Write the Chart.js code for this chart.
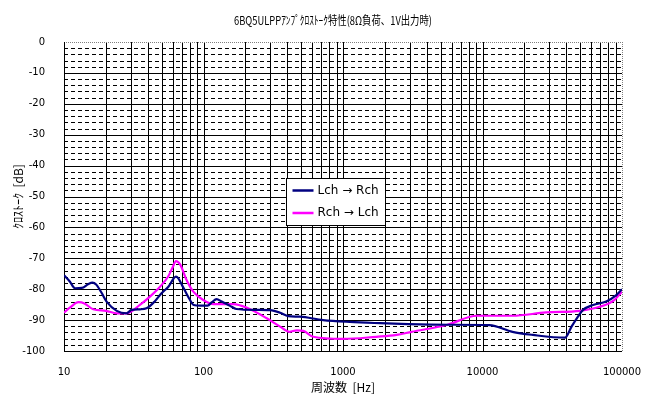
<!DOCTYPE html>
<html><head><meta charset="utf-8">
<script src="https://cdn.jsdelivr.net/npm/chart.js@4/dist/chart.umd.min.js"></script>
<style>html,body{margin:0;padding:0;background:#fff;overflow:hidden}#wrap{width:651px;height:397px;position:relative}</style>
</head><body><div id="wrap"><canvas id="c" width="651" height="397"></canvas></div>
<script>
const chartTitle = '6BQ5ULPPｱﾝﾌﾟｸﾛｽﾄｰｸ特性(8Ω負荷、1V出力時)';
const xTitle = '周波数  [Hz]';
const yTitle = 'ｸﾛｽﾄｰｸ  [dB]';
const seriesNames = ['Lch → Rch', 'Rch → Lch'];
const xTickLabels = [10, 100, 1000, 10000, 100000];
const yMin = -100, yMax = 0, yMajorStep = 10, yMinorStep = 2;

const freqL = [10, 11, 12, 13.4, 15, 16, 17, 18.5, 20.2, 23.9, 28, 30.5, 35, 39, 45, 50, 56, 63.5, 66, 71.5, 80, 85, 95, 107, 115, 124, 135, 155, 172, 240, 300, 354, 405, 490, 720, 1120, 1840, 2950, 5800, 11200, 16400, 23000, 39000, 43500, 48600, 52600, 62000, 77000, 91000, 100000];
const dbL   = [-75.5, -77.5, -79.7, -79.6, -78.3, -77.9, -78.5, -81, -84, -87, -87.8, -86.7, -86.5, -86.2, -83.8, -81.3, -79.2, -75.9, -76.5, -79.4, -83.5, -85.1, -85.3, -85.3, -84.2, -83.2, -84, -85.4, -86.4, -86.7, -86.8, -87.6, -88.7, -88.9, -90, -90.6, -91, -91.3, -91.5, -91.6, -93.8, -94.8, -95.7, -92.1, -88.7, -86.7, -85.1, -84, -81.9, -80];

const freqR = [10, 11, 12.7, 14, 16.2, 20, 24, 28, 35, 41.3, 48.8, 55.8, 60, 63.5, 67.8, 75.6, 84.5, 99.5, 118, 164, 205, 284, 354, 414, 466, 520, 612, 1000, 1730, 2420, 3100, 5530, 9100, 16400, 28600, 50000, 69000, 88000, 100000];
const dbR   = [-87.6, -86, -84.2, -84.6, -86.5, -87, -87.8, -87.8, -85.1, -82.4, -79.2, -75.9, -73, -70.9, -71.9, -77, -80.8, -83.5, -84.8, -84.8, -86, -89.4, -92.1, -93.8, -93.3, -93.5, -95.4, -96.1, -95.4, -94.8, -93.8, -91.6, -88.6, -88.6, -87.5, -87, -85.7, -83.5, -80.8];

const colors = ['#000080', '#FF00FF'];
const NUMFONT = {family: 'DejaVu Sans', size: 10};
const JPFONT = {family: 'Noto Sans CJK JP', size: 12};

const toPts = (fx, fy) => fx.map((f, i) => ({x: f, y: fy[i]}));

const gridPlugin = {
  id: 'customGrid',
  beforeDatasetsDraw(chart) {
    const {ctx, chartArea: a, scales: {x, y}} = chart;
    ctx.save();
    ctx.lineWidth = 1;
    ctx.strokeStyle = '#000';
    const hline = (py) => { ctx.beginPath(); ctx.moveTo(a.left, py); ctx.lineTo(a.right, py); ctx.stroke(); };
    const vline = (px) => { ctx.beginPath(); ctx.moveTo(px, a.top); ctx.lineTo(px, a.bottom); ctx.stroke(); };
    ctx.setLineDash([4, 3]);
    for (let v = yMin + yMinorStep; v < yMax; v += yMinorStep) {
      if (v % yMajorStep === 0) continue;
      hline(Math.round(y.getPixelForValue(v)) + 0.5);
    }
    ctx.setLineDash([]);
    for (let v = yMin + yMajorStep; v < yMax; v += yMajorStep) {
      hline(Math.round(y.getPixelForValue(v)) + 0.5);
    }
    for (let d = 10; d < 100000; d *= 10) {
      for (let m = 1; m <= 9; m++) {
        const v = d * m;
        if (v === 10) continue;
        vline(Math.round(x.getPixelForValue(v)) + 0.5);
      }
    }
    ctx.strokeStyle = '#808080';
    ctx.setLineDash([1, 1]);
    hline(Math.round(a.top) + 0.5);
    vline(Math.round(a.right) + 0.5);
    ctx.setLineDash([]);
    ctx.strokeStyle = '#000';
    hline(Math.round(a.bottom) + 0.5);
    vline(Math.round(a.left) + 0.5);
    ctx.restore();
  },
  afterDatasetsDraw(chart) {
    const {ctx, chartArea: a} = chart;
    ctx.save();
    const bx = a.left + 222.5, by = a.top + 136.5, bw = 99, bh = 47;
    ctx.fillStyle = '#fff';
    ctx.fillRect(bx, by, bw, bh);
    ctx.strokeStyle = '#000'; ctx.lineWidth = 1;
    ctx.strokeRect(bx, by, bw, bh);
    ctx.font = '12px "DejaVu Sans"';
    ctx.textBaseline = 'middle';
    ctx.textAlign = 'left';
    chart.data.datasets.forEach((ds, i) => {
      const ly = by + 12 + i * 22.5;
      ctx.strokeStyle = ds.borderColor; ctx.lineWidth = 2.5;
      ctx.beginPath(); ctx.moveTo(bx + 6, ly); ctx.lineTo(bx + 27, ly); ctx.stroke();
      ctx.fillStyle = '#000';
      ctx.fillText(ds.label, bx + 31, ly);
    });
    ctx.font = '12px "Noto Sans CJK JP"';
    ctx.textAlign = 'center';
    ctx.fillStyle = '#000';
    ctx.fillText(chartTitle, 333, 20, 198);
    ctx.restore();
  }
};

new Chart(document.getElementById('c'), {
  type: 'line',
  data: {
    datasets: [
      {label: seriesNames[0], data: toPts(freqL, dbL), borderColor: colors[0], backgroundColor: colors[0]},
      {label: seriesNames[1], data: toPts(freqR, dbR), borderColor: colors[1], backgroundColor: colors[1]}
    ]
  },
  options: {
    responsive: false,
    animation: false,
    devicePixelRatio: 1,
    layout: {padding: {top: 42, left: 0, right: 29, bottom: 0}},
    elements: {line: {borderWidth: 2.2, cubicInterpolationMode: 'monotone'}, point: {radius: 0}},
    plugins: {legend: {display: false}, title: {display: false}, tooltip: {enabled: false}},
    scales: {
      x: {
        type: 'logarithmic', min: 10, max: 100000,
        grid: {display: false}, border: {display: false},
        ticks: {
          autoSkip: false, maxRotation: 0, padding: 7, color: '#000', font: NUMFONT,
          callback: (v) => xTickLabels.some(t => Math.abs(t - v) < 1e-6 * t) ? String(Math.round(v)) : ''
        },
        title: {display: true, text: xTitle, color: '#000', font: JPFONT, padding: {top: 2, bottom: 2}},
        afterFit: (s) => { s.height = 46; }
      },
      y: {
        min: yMin, max: yMax,
        grid: {display: false}, border: {display: false},
        ticks: {stepSize: yMajorStep, padding: 11, color: '#000', font: NUMFONT},
        title: {display: true, text: yTitle, color: '#000', font: JPFONT, padding: {top: 11, bottom: 0}},
        afterFit: (s) => { s.width = 64; }
      }
    }
  },
  plugins: [gridPlugin]
});
</script>
</body></html>
